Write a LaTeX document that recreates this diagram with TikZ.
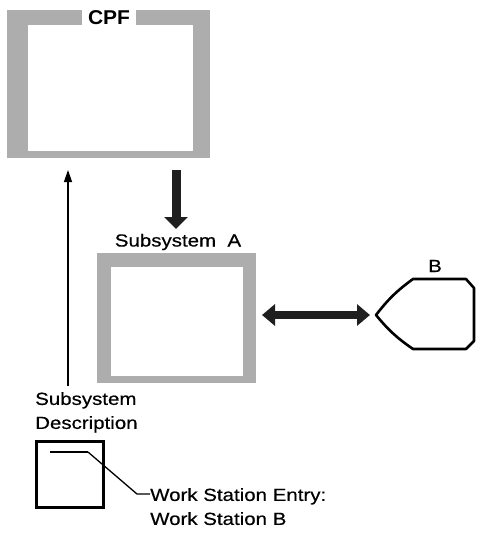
\documentclass[tikz,border=0pt]{standalone}
\usepackage{fontspec}
\setmainfont[FakeStretch=1.17,FakeBold=0.5]{Liberation Sans}
\newfontfamily\cpffont[FakeStretch=1.05]{Liberation Sans Bold}
\usetikzlibrary{arrows.meta}
\begin{document}
\begin{tikzpicture}[x=1pt,y=-1pt,
  band/.style={fill=black!32,draw=none,inner sep=0pt,anchor=north west},
  lbl/.style={font=\fontsize{17.5}{24}\selectfont,inner sep=0pt},
  bigarrow/.style={draw=black!88,line width=9pt,-{Triangle[width=23pt,length=12pt]},fill=black!88},
  bigdouble/.style={draw=black!88,line width=8pt,{Triangle[width=21pt,length=13pt]}-{Triangle[width=21pt,length=13pt]},fill=black!88},
  thinarrow/.style={line width=1.3pt,-{Triangle[width=8pt,length=12pt]}},
  outline/.style={line width=2.6pt,line join=round}]
\useasboundingbox (0,0) rectangle (477,533);
% CPF box
\node[band,minimum width=203pt,minimum height=148pt] (cpfbox) at (7,10) {};
\fill[white] (28,25) rectangle (193,151);
\node[fill=white,inner sep=0pt,minimum width=54pt,minimum height=15pt,font=\cpffont\fontsize{20}{20}\selectfont] (cpf) at (109,17.5) {CPF};
% Subsystem A box
\node[band,minimum width=159pt,minimum height=130pt] (sabox) at (97,253) {};
\fill[white] (111,267) rectangle (243,376);
\node[lbl] (salbl) at (178,242) {Subsystem\ \ A};
% B
\node[lbl] (blbl) at (435,266) {B};
\draw[outline] (376,315) coordinate (btip) to[bend left=8] (413,279) -- (466,279) -- (474,288)
  -- (474,341) -- (466,349) -- (413,349) to[bend left=8] cycle;
% arrows
\coordinate (dstart) at (176,170);
\coordinate (dend) at (176,229);
\draw[bigarrow] (dstart) -- (dend);
\coordinate (hl) at (262,315);
\coordinate (hr) at (370,315);
\draw[bigdouble] (hl) -- (hr);
% Subsystem Description
\node[lbl,anchor=north west,align=left] (sd) at (35,392) {Subsystem\\Description};
\coordinate (sdtop) at (68,386);
\coordinate (cpfhit) at (68,170);
\draw[thinarrow] (sdtop) -- (cpfhit);
% description box
\node[draw,line width=3pt,minimum width=67pt,minimum height=66pt,anchor=north west,inner sep=0pt] (dbox) at (34.5,439.5) {};
\coordinate (e1) at (50,452);
\coordinate (e2) at (88,452);
\draw[line width=1.5pt] (e1) -- (e2);
\node[lbl,anchor=north west,align=left] (ws) at (150,488) {Work Station Entry:\\Work Station B};
\coordinate (bend) at (137,494);
\draw[line width=1.3pt] (e2) -- (bend) -- (ws.west |- bend);
\end{tikzpicture}
\end{document}
